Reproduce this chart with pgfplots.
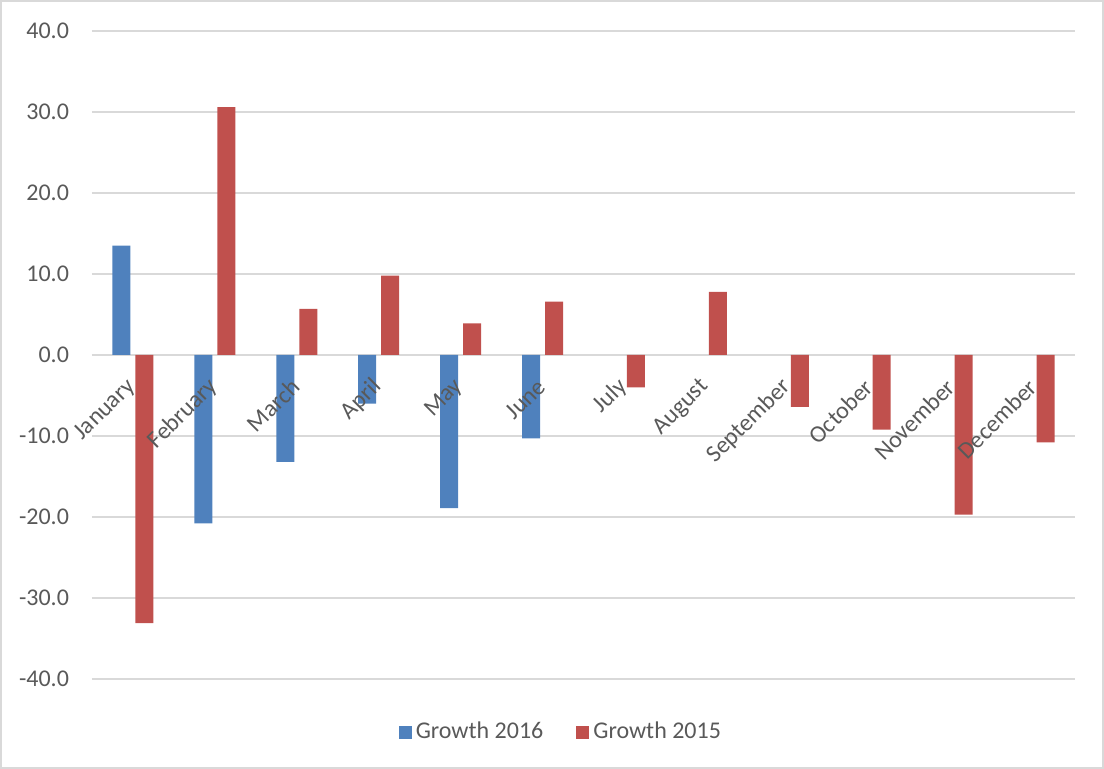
\documentclass[border=0pt]{standalone}
\usepackage{fontspec}
\setmainfont{Carlito}
\usepackage{pgfplots}
\pgfplotsset{compat=1.18}
\definecolor{cblue}{HTML}{4F81BD}
\definecolor{cred}{HTML}{C0504D}
\definecolor{ctext}{HTML}{595959}
\definecolor{cgrid}{HTML}{D9D9D9}
\pgfplotsset{
  layers/labelsontop/.define layer set={
    axis background,axis grid,axis ticks,axis lines,main,axis tick labels,axis descriptions,axis foreground
  }{/pgfplots/layers/standard},
}
\begin{document}
\begin{tikzpicture}
\begin{axis}[
  set layers=labelsontop,
  scale only axis, width=491.5pt, height=324pt,
  xmin=-0.5, xmax=11.5, ymin=-40, ymax=40,
  axis x line=middle, axis y line=left,
  x axis line style={-, draw=cgrid, line width=0.7pt},
  y axis line style={draw=none},
  major tick length=0pt,
  xtick={0,...,11},
  xticklabels={January,February,March,April,May,June,July,August,September,October,November,December},
  ytick={-40,-30,...,40},
  yticklabels={-40.0,-30.0,-20.0,-10.0,0.0,10.0,20.0,30.0,40.0},
  ymajorgrids, grid style={draw=cgrid, line width=0.7pt},
  ticklabel style={font=\fontsize{12}{14}\selectfont, text=ctext},
  xticklabel style={yshift=-14pt, xshift=-0.5pt, rotate=45, anchor=east, inner sep=0pt},
  yticklabel style={xshift=-8pt},
  ybar=2.5pt, bar width=9pt,
  legend style={at={(0.478,-0.082)}, anchor=center, draw=none, fill=none,
    font=\fontsize{12}{14}\selectfont, text=ctext, legend columns=2,
    /tikz/every even column/.append style={column sep=14.5pt},
    /tikz/every odd column/.append style={column sep=0pt}},
  legend image code/.code={\fill[#1] (0pt,-3.25pt) rectangle (6.5pt,3.25pt);},
  clip=false,
]
\addplot[fill=cblue, draw=none] coordinates {(0,13.5) (1,-20.8) (2,-13.2) (3,-6.0) (4,-18.9) (5,-10.3)};
\addplot[fill=cred, draw=none] coordinates {(0,-33.1) (1,30.6) (2,5.7) (3,9.8) (4,3.9) (5,6.6) (6,-4.0) (7,7.8) (8,-6.4) (9,-9.2) (10,-19.7) (11,-10.8)};
\legend{Growth 2016, Growth 2015}
\end{axis}
\pgfresetboundingbox
\path[use as bounding box] ([shift={(-46pt,-45pt)}]current axis.south west) rectangle ([shift={(14.5pt,15.5pt)}]current axis.north east);
\draw[cgrid, line width=0.8pt] ([shift={(-45.4pt,-44.6pt)}]current axis.south west) rectangle ([shift={(13.9pt,15.1pt)}]current axis.north east);
\end{tikzpicture}
\end{document}
